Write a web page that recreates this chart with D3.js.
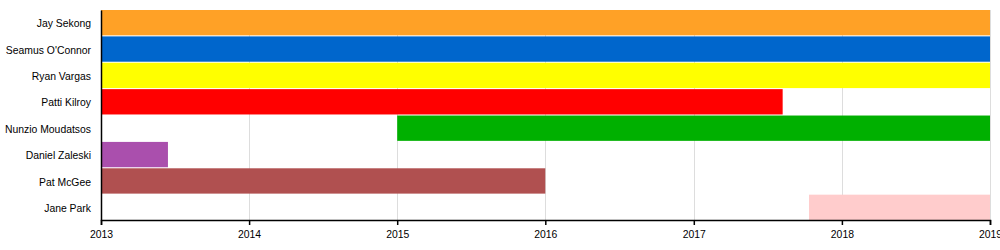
<!DOCTYPE html>
<html>
<head>
<meta charset="utf-8">
<script src="https://cdn.jsdelivr.net/npm/d3@7"></script>
<style>
  body { margin: 0; background: #fff; }
  text { font-family: "Liberation Sans", Arial, sans-serif; fill: #000; }
</style>
</head>
<body>
<div class="chart"></div>
<script>
const members = ['Jay Sekong', "Seamus O'Connor", 'Ryan Vargas', 'Patti Kilroy',
                 'Nunzio Moudatsos', 'Daniel Zaleski', 'Pat McGee', 'Jane Park'];
const starts  = ['2013-01-01', '2013-01-01', '2013-01-01', '2013-01-01',
                 '2015-01-01', '2013-01-01', '2013-01-01', '2017-10-12'];
const ends    = ['2019-01-01', '2019-01-01', '2019-01-01', '2017-08-08',
                 '2019-01-01', '2013-06-15', '2016-01-01', '2019-01-01'];
const colors  = ['#ffa126', '#0066cc', '#ffff00', '#ff0000',
                 '#00b000', '#aa4fad', '#b05050', '#ffcccc'];
const tickYears = ['2013', '2014', '2015', '2016', '2017', '2018', '2019'];

(function() {
  'use strict';

  const width = 1000, height = 250,
        margin = { top: 10, right: 10, bottom: 30, left: 101 },
        font = '"Liberation Sans", Arial, sans-serif',
        parse = d3.timeParse('%Y-%m-%d'),
        parseYear = d3.timeParse('%Y');

  const rows = members.map((name, i) => ({
    name: name,
    start: parse(starts[i]),
    end: parse(ends[i]),
    color: colors[i]
  }));

  const ticks = tickYears.map(parseYear);

  const svg = d3.select('.chart')
    .append('svg')
    .attr('width', width)
    .attr('height', height);

  const x = d3.scaleTime()
    .domain([ticks[0], ticks[ticks.length - 1]])
    .range([margin.left, width - margin.right]);

  const y = d3.scaleBand()
    .domain(members)
    .range([margin.top, height - margin.bottom])
    .paddingInner(0.04);

  // grid lines
  svg.append('g')
    .selectAll('line')
    .data(ticks.slice(1))
    .enter()
    .append('line')
      .attr('x1', d => Math.round(x(d)) + 0.5)
      .attr('x2', d => Math.round(x(d)) + 0.5)
      .attr('y1', margin.top)
      .attr('y2', height - margin.bottom)
      .style('stroke', '#dddddd')
      .style('stroke-width', 1);

  // bars
  svg.append('g')
    .selectAll('rect')
    .data(rows)
    .enter()
    .append('rect')
      .attr('x', d => x(d.start))
      .attr('y', d => y(d.name))
      .attr('width', d => x(d.end) - x(d.start))
      .attr('height', y.bandwidth())
      .style('fill', d => d.color);

  // x axis
  const xAxis = svg.append('g')
    .attr('transform', `translate(0,${height - margin.bottom})`)
    .call(d3.axisBottom(x).tickValues(ticks).tickFormat(d3.timeFormat('%Y')).tickSizeOuter(0).tickSize(5));
  xAxis.select('.domain').style('stroke', '#000').style('stroke-width', 1.5);
  xAxis.selectAll('.tick line').style('stroke', '#000').style('stroke-width', 1.5);
  xAxis.selectAll('text').attr('dy', '0.95em').style('font-size', '10.4px')
    .style('font-family', font);

  // y axis
  const yAxis = svg.append('g')
    .attr('transform', `translate(${margin.left},0)`)
    .call(d3.axisLeft(y).tickSize(0).tickPadding(10));
  yAxis.select('.domain').style('stroke', '#000').style('stroke-width', 1.5);
  yAxis.selectAll('text').attr('dy', '0.45em').style('font-size', '10.4px')
    .style('font-family', font);
})();
</script>
</body>
</html>
